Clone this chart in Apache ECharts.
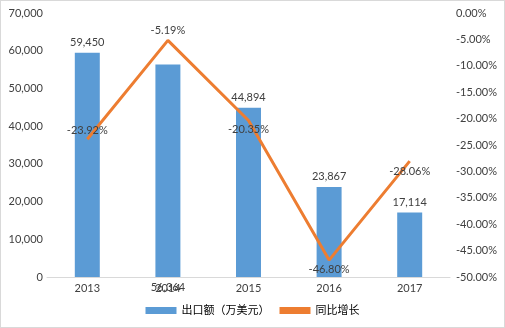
<!DOCTYPE html>
<html><head><meta charset="utf-8">
<script src="https://cdn.jsdelivr.net/npm/echarts@6/dist/echarts.min.js"></script>
<style>html,body{margin:0;padding:0;background:#fff}#c{width:503px;height:326px;border:1px solid #d9d9d9}</style>
</head><body><div id="c"></div>
<script>
var categories = ['2013','2014','2015','2016','2017'];
var barValues = [59450, 56364, 44894, 23867, 17114];
var growthValues = [-23.92, -5.19, -20.35, -46.80, -28.06];
var barName = '出口额（万美元）';
var lineName = '同比增长';

var lineLabelOffsets = [-3, -4, 15, 15, 16];
var font = 'Lato, "Noto Sans CJK SC", sans-serif';
var chart = echarts.init(document.getElementById('c'));
chart.setOption({
  animation: false,
  textStyle: {fontFamily: font},
  grid: {left: 46, right: 54, top: 12, bottom: 50},
  legend: {
    bottom: 6, left: 'center', itemWidth: 31, itemHeight: 7, itemGap: 10,
    textStyle: {fontFamily: font, fontSize: 11, color: '#000'},
    data: [{name: barName, icon: 'rect'}, {name: lineName, icon: 'rect'}]
  },
  xAxis: {
    type: 'category', data: categories,
    axisLine: {lineStyle: {color: '#d9d9d9'}},
    axisTick: {show: false},
    axisLabel: {color: '#404040', fontSize: 11, margin: 6}
  },
  yAxis: [{
    type: 'value', min: 0, max: 70000, interval: 10000,
    splitLine: {show: false}, axisLine: {show: false}, axisTick: {show: false},
    axisLabel: {color: '#404040', fontSize: 11, margin: 4,
      formatter: function (v) { return v.toLocaleString('en-US'); }}
  }, {
    type: 'value', min: -50, max: 0, interval: 5,
    splitLine: {show: false}, axisLine: {show: false}, axisTick: {show: false},
    axisLabel: {color: '#404040', fontSize: 11, margin: 6,
      formatter: function (v) { return v.toFixed(2) + '%'; }}
  }],
  series: [{
    name: barName, type: 'bar', barWidth: '31%',
    itemStyle: {color: '#5B9BD5'},
    label: {show: true, position: 'top', distance: 5, color: '#404040', fontSize: 11,
      formatter: function (p) { return p.value.toLocaleString('en-US'); }},
    data: barValues.map(function (v, i) {
      return i === 1 ? {value: v, label: {position: 'bottom', distance: 5}} : v;
    })
  }, {
    name: lineName, type: 'line', yAxisIndex: 1,
    symbol: 'circle', symbolSize: 0.1, showSymbol: true,
    itemStyle: {color: '#ED7D31'},
    lineStyle: {color: '#ED7D31', width: 3},
    label: {show: true, position: 'top', distance: 0, color: '#404040', fontSize: 11,
      formatter: function (p) { return p.value.toFixed(2) + '%'; }},
    data: growthValues.map(function (v, i) {
      return {value: v, label: {offset: [0, lineLabelOffsets[i]]}};
    })
  }]
});
</script></body></html>
